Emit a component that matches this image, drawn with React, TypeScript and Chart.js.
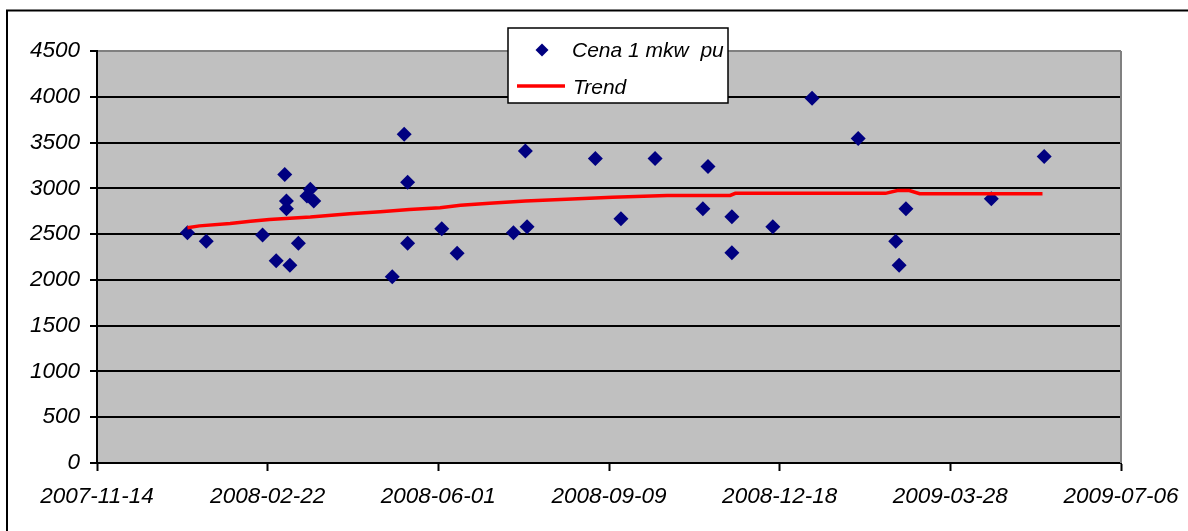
import React, { useEffect, useRef } from "react";
import { Chart, registerables } from "chart.js";

Chart.register(...registerables);

const POINT_DATES = [
  "2008-01-06", "2008-01-17", "2008-02-19", "2008-02-27", "2008-03-03", "2008-03-04",
  "2008-03-04", "2008-03-06", "2008-03-11", "2008-03-16", "2008-03-18", "2008-03-20",
  "2008-05-05", "2008-05-12", "2008-05-14", "2008-05-14", "2008-06-03", "2008-06-12",
  "2008-07-15", "2008-07-22", "2008-07-23", "2008-09-01", "2008-09-16", "2008-10-06",
  "2008-11-03", "2008-11-06", "2008-11-20", "2008-11-20", "2008-12-14", "2009-01-06",
  "2009-02-02", "2009-02-24", "2009-02-26", "2009-03-02", "2009-04-21", "2009-05-22",
];
const PRICES = [
  2515, 2423, 2489, 2208, 3150, 2861,
  2778, 2161, 2401, 2916, 2989, 2861,
  2033, 3591, 3066, 2401, 2559, 2292,
  2515, 3409, 2581, 3325, 2668, 3325,
  2778, 3238, 2690, 2296, 2581, 3985,
  3544, 2423, 2161, 2778, 2887, 3347,
];

const TREND_DATES = [
  "2008-01-06", "2008-01-13", "2008-01-31", "2008-02-12", "2008-02-23", "2008-03-18",
  "2008-04-10", "2008-04-28", "2008-05-15", "2008-06-02", "2008-06-14", "2008-07-01",
  "2008-07-22", "2008-08-15", "2008-09-11", "2008-10-13", "2008-11-19", "2008-11-22",
  "2009-02-18", "2009-02-25", "2009-03-04", "2009-03-10", "2009-05-21",
];
const TREND_VALUES = [
  2570, 2590, 2617, 2640, 2660, 2686,
  2723, 2745, 2770, 2789, 2814, 2836,
  2862, 2880, 2902, 2923, 2923, 2945,
  2945, 2975, 2975, 2942, 2942,
];

const SERIES_LABELS = ["Cena 1 mkw  pu", "Trend"];
const X_AXIS_START = "2007-11-14";
const X_AXIS_END = "2009-07-06";
const X_STEP_DAYS = 100;
const Y_MIN = 0;
const Y_MAX = 4500;
const Y_STEP = 500;

const DAY_MS = 86400000;
const toDay = (s: string) => {
  const [y, m, d] = s.split("-").map(Number);
  return Date.UTC(y, m - 1, d) / DAY_MS;
};
const fromDay = (v: number) => new Date(Math.round(v) * DAY_MS).toISOString().slice(0, 10);

const FONT_FAMILY = "'Liberation Sans', Arial, sans-serif";

export default function App() {
  const ref = useRef<HTMLCanvasElement | null>(null);

  useEffect(() => {
    document.body.style.margin = "0";
    const canvas = ref.current;
    if (!canvas) return;

    const scatterData = POINT_DATES.map((d, i) => ({ x: toDay(d), y: PRICES[i] }));
    const trendData = TREND_DATES.map((d, i) => ({ x: toDay(d), y: TREND_VALUES[i] }));

    const decor = {
      id: "decor",
      beforeDraw(chart: any) {
        const { ctx, chartArea: a, width, height } = chart;
        ctx.save();
        ctx.fillStyle = "#ffffff";
        ctx.fillRect(0, 0, width, height);
        ctx.fillStyle = "#c0c0c0";
        ctx.fillRect(a.left, a.top, a.right - a.left, a.bottom - a.top);
        ctx.strokeStyle = "#000000";
        ctx.lineWidth = 2;
        ctx.beginPath();
        ctx.moveTo(7, height);
        ctx.lineTo(7, 10.5);
        ctx.lineTo(width, 10.5);
        ctx.stroke();
        ctx.restore();
      },
      beforeDatasetsDraw(chart: any) {
        const { ctx, chartArea: a } = chart;
        ctx.save();
        ctx.strokeStyle = "#808080";
        ctx.lineWidth = 2;
        ctx.beginPath();
        ctx.moveTo(a.right, a.top);
        ctx.lineTo(a.right, a.bottom);
        ctx.stroke();
        ctx.restore();
      },
      afterDraw(chart: any) {
        const { ctx } = chart;
        ctx.save();
        ctx.fillStyle = "#ffffff";
        ctx.fillRect(508, 28, 220, 75);
        ctx.strokeStyle = "#000000";
        ctx.lineWidth = 1.5;
        ctx.strokeRect(508, 28, 220, 75);
        ctx.fillStyle = "#000080";
        ctx.beginPath();
        ctx.moveTo(542, 43.5);
        ctx.lineTo(548.5, 50);
        ctx.lineTo(542, 56.5);
        ctx.lineTo(535.5, 50);
        ctx.closePath();
        ctx.fill();
        ctx.strokeStyle = "#ff0000";
        ctx.lineWidth = 3.5;
        ctx.beginPath();
        ctx.moveTo(517, 86);
        ctx.lineTo(565, 86);
        ctx.stroke();
        ctx.fillStyle = "#000000";
        ctx.font = `italic 21px ${FONT_FAMILY}`;
        ctx.textAlign = "left";
        ctx.textBaseline = "alphabetic";
        ctx.fillText(SERIES_LABELS[0], 572, 57);
        ctx.fillText(SERIES_LABELS[1], 573, 94);
        ctx.restore();
      },
    };

    const tickFont = { family: FONT_FAMILY, size: 22.5, style: "italic" as const };

    const chart = new Chart(canvas, {
      type: "scatter",
      data: {
        datasets: [
          {
            label: SERIES_LABELS[0],
            data: scatterData,
            pointStyle: "rectRot",
            pointRadius: 7.5,
            pointHoverRadius: 7.5,
            backgroundColor: "#000080",
            borderColor: "#000080",
            borderWidth: 0,
            showLine: false,
            order: 1,
          },
          {
            type: "line",
            label: SERIES_LABELS[1],
            data: trendData,
            borderColor: "#ff0000",
            backgroundColor: "#ff0000",
            borderWidth: 3.5,
            pointRadius: 0,
            tension: 0,
            showLine: true,
            fill: false,
            order: 0,
          } as any,
        ],
      },
      options: {
        responsive: false,
        animation: false,
        devicePixelRatio: 1,
        layout: { padding: { top: 51, right: 67, left: 0, bottom: 0 } },
        plugins: {
          legend: { display: false },
          tooltip: { enabled: false },
        },
        scales: {
          x: {
            type: "linear",
            min: toDay(X_AXIS_START),
            max: toDay(X_AXIS_END),
            afterFit: (s: any) => {
              s.height = 68;
              s.paddingLeft = 0;
              s.paddingRight = 0;
            },
            ticks: {
              stepSize: X_STEP_DAYS,
              autoSkip: false,
              maxRotation: 0,
              minRotation: 0,
              padding: 12,
              color: "#000000",
              font: tickFont,
              callback: (v: any) => fromDay(Number(v)),
            },
            grid: {
              drawOnChartArea: false,
              drawTicks: true,
              tickLength: 8,
              tickColor: "#000000",
              tickWidth: 2,
            },
            border: { display: true, color: "#000000", width: 2 },
          },
          y: {
            type: "linear",
            min: Y_MIN,
            max: Y_MAX,
            afterFit: (s: any) => {
              s.width = 97;
              s.paddingTop = 0;
              s.paddingBottom = 0;
            },
            ticks: {
              stepSize: Y_STEP,
              padding: 10,
              color: "#000000",
              font: tickFont,
              callback: (v: any) => String(v),
            },
            grid: {
              color: (c: any) => (c.tick && c.tick.value === Y_MAX ? "#808080" : "#000000"),
              lineWidth: 2,
              drawTicks: true,
              tickLength: 7,
              tickColor: "#000000",
              tickWidth: 2,
            },
            border: { display: true, color: "#000000", width: 2 },
          },
        },
      },
      plugins: [decor],
    });

    return () => chart.destroy();
  }, []);

  return (
    <div style={{ width: 1188, height: 531 }}>
      <canvas ref={ref} width={1188} height={531} style={{ display: "block" }} />
    </div>
  );
}
